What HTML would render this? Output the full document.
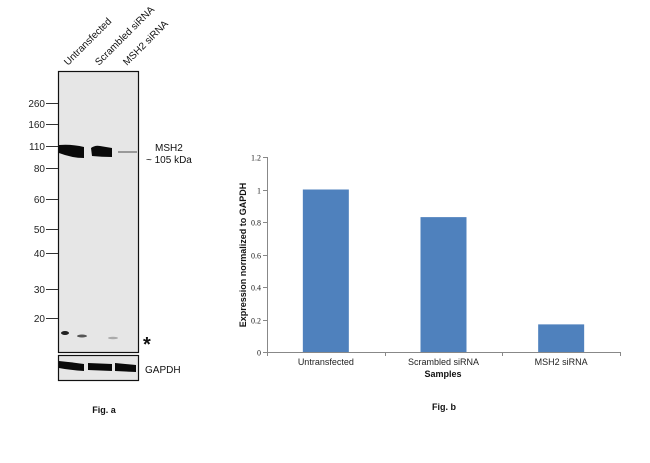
<!DOCTYPE html>
<html><head><meta charset="utf-8"><style>
html,body{margin:0;padding:0;background:#fff;}
svg{display:block;font-family:"Liberation Sans",sans-serif;}
</style></head><body>
<svg width="650" height="463" viewBox="0 0 650 463">
<g>
  <rect x="58.5" y="71.5" width="80" height="281" fill="#e6e6e6" stroke="#111" stroke-width="1.2"/>
  <rect x="58.5" y="355.5" width="80" height="25" fill="#e6e6e6" stroke="#111" stroke-width="1.2"/>
  <g font-size="10" fill="#222" text-anchor="end">
    <text x="45" y="107">260</text><line x1="46" x2="58" y1="103.5" y2="103.5" stroke="#333"/>
    <text x="45" y="128">160</text><line x1="46" x2="58" y1="124.5" y2="124.5" stroke="#333"/>
    <text x="45" y="150">110</text><line x1="46" x2="58" y1="146.5" y2="146.5" stroke="#333"/>
    <text x="45" y="172">80</text><line x1="46" x2="58" y1="168.5" y2="168.5" stroke="#333"/>
    <text x="45" y="203">60</text><line x1="46" x2="58" y1="199.5" y2="199.5" stroke="#333"/>
    <text x="45" y="233">50</text><line x1="46" x2="58" y1="229.5" y2="229.5" stroke="#333"/>
    <text x="45" y="257">40</text><line x1="46" x2="58" y1="253.5" y2="253.5" stroke="#333"/>
    <text x="45" y="293">30</text><line x1="46" x2="58" y1="289.5" y2="289.5" stroke="#333"/>
    <text x="45" y="322">20</text><line x1="46" x2="58" y1="318.5" y2="318.5" stroke="#333"/>
  </g>
  <path d="M59,145 Q72,144 84,147 L84,158 Q72,158 59,153 Z" fill="#0a0a0a"/>
  <path d="M91,148 Q95,145 100,146 Q106,147 112,148 L112,157 Q102,157 92,156 Z" fill="#0a0a0a"/>
  <rect x="118" y="151" width="19" height="2" fill="#999"/>
  <ellipse cx="65" cy="333" rx="4" ry="2" fill="#222"/>
  <ellipse cx="82" cy="336" rx="5" ry="1.5" fill="#555"/>
  <ellipse cx="113" cy="338" rx="5" ry="1.2" fill="#aaa"/>
  <path d="M59,361 Q70,362 84,364 L84,371 Q70,370 59,368 Z" fill="#0a0a0a"/>
  <path d="M88,363 L112,364 L112,371 L88,370 Z" fill="#0a0a0a"/>
  <path d="M115,363 L136,365 L136,372 L115,371 Z" fill="#0a0a0a"/>
  <g font-size="10" fill="#111">
    <text transform="translate(68,66) rotate(-45)">Untransfected</text>
    <text transform="translate(99,66) rotate(-45)">Scrambled siRNA</text>
    <text transform="translate(127,66) rotate(-45)">MSH2 siRNA</text>
  </g>
  <text x="155" y="151" font-size="10" fill="#111">MSH2</text>
  <text x="146" y="163" font-size="10" fill="#111">~ 105 kDa</text>
  <text x="143" y="351" font-size="20" font-weight="bold" fill="#111">*</text>
  <text x="145" y="373" font-size="10" fill="#111">GAPDH</text>
  <text x="104" y="413" font-size="9" font-weight="bold" text-anchor="middle" fill="#111">Fig. a</text>
</g>
<g id="chart"></g>
</svg>
<script>
const categories = ["Untransfected", "Scrambled siRNA", "MSH2 siRNA"];
const values = [1.0, 0.83, 0.17];
const ticks = [0, 0.2, 0.4, 0.6, 0.8, 1, 1.2];
const tickLabels = ["0", "0.2", "0.4", "0.6", "0.8", "1", "1.2"];

const NS = "http://www.w3.org/2000/svg";
const g = document.getElementById('chart');
const x0 = 267, x1 = 620, y0 = 352, yTop = 157, yMax = 1.2;
const yScale = v => y0 - (v / yMax) * (y0 - yTop);
const band = (x1 - x0) / categories.length;
const xCenter = i => x0 + band * (i + 0.5);
const barW = 46;
function mk(tag, attrs) { const e = document.createElementNS(NS, tag); for (const k in attrs) e.setAttribute(k, attrs[k]); g.appendChild(e); return e; }

const yAxis = mk('line', {x1: x0 + .5, x2: x0 + .5, y1: yTop, y2: y0 + .5, stroke: '#888'});


const xAxis = mk('line', {x1: x0, x2: x1, y1: y0 + .5, y2: y0 + .5, stroke: '#888'});



ticks.forEach((t, i) => {
  const y = Math.round(yScale(t)) + .5;
  const tk = mk('line', {x1: x0 - 4, x2: x0, y1: y, y2: y, stroke: '#888'});
  
  
  const tl = mk('text', {x: x0 - 6, y: y + 3, 'font-size': 8, 'text-anchor': 'end', fill: '#222', 'font-family': 'Liberation Serif, serif'});
  tl.textContent = tickLabels[i];
  
  
});
for (let i = 0; i <= categories.length; i++) {
  const x = Math.round(x0 + band * i) + .5;
  const tk = mk('line', {x1: x, x2: x, y1: y0, y2: y0 + 4, stroke: '#888'});
  
  
}
categories.forEach((c, i) => {
  const top = yScale(values[i]);
  const r = mk('rect', {x: xCenter(i) - barW / 2, y: top, width: barW, height: y0 - top, fill: '#4f81bd'});
  
  
  const t = mk('text', {x: xCenter(i), y: 365, 'font-size': 9, 'text-anchor': 'middle', fill: '#222'});
  t.textContent = c;
  
  
});
const xt = mk('text', {x: 443, y: 377, 'font-size': 9, 'font-weight': 'bold', 'text-anchor': 'middle', fill: '#111'});
xt.textContent = 'Samples';


const yt = mk('text', {transform: 'translate(246,255) rotate(-90)', 'font-size': 9, 'font-weight': 'bold', 'text-anchor': 'middle', fill: '#111'});
yt.textContent = 'Expression normalized to GAPDH';


const fb = mk('text', {x: 444, y: 410, 'font-size': 9, 'font-weight': 'bold', 'text-anchor': 'middle', fill: '#111'});
fb.textContent = 'Fig. b';


</script>
</body></html>
